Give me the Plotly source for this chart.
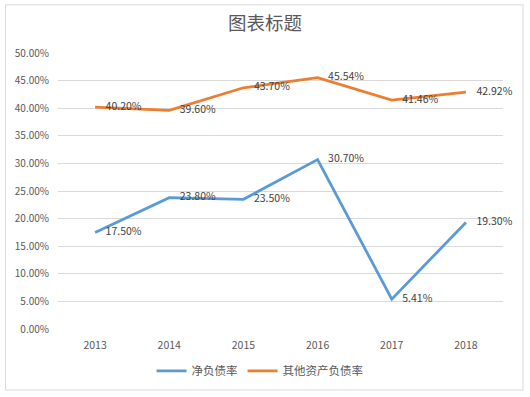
import plotly.graph_objects as go

years = ["2013", "2014", "2015", "2016", "2017", "2018"]
net_debt = [0.175, 0.238, 0.235, 0.307, 0.0541, 0.193]
other_debt = [0.402, 0.396, 0.437, 0.4554, 0.4146, 0.4292]
net_labels = ["17.50%", "23.80%", "23.50%", "30.70%", "5.41%", "19.30%"]
other_labels = ["40.20%", "39.60%", "43.70%", "45.54%", "41.46%", "42.92%"]
y_ticks = [0, 0.05, 0.10, 0.15, 0.20, 0.25, 0.30, 0.35, 0.40, 0.45, 0.50]

font_family = "Noto Sans CJK SC, Noto Sans, sans-serif"
pad = "\u2002\u2002"

fig = go.Figure()
fig.add_trace(go.Scatter(
    x=years, y=net_debt, name="净负债率", mode="lines+text",
    line=dict(color="#5B9BD5", width=2.8),
    text=[pad + t for t in net_labels], textposition="middle right",
    textfont=dict(size=10.5, color="#404040", family=font_family),
    cliponaxis=False, hoverinfo="skip",
))
fig.add_trace(go.Scatter(
    x=years, y=other_debt, name="其他资产负债率", mode="lines+text",
    line=dict(color="#ED7D31", width=2.8),
    text=[pad + t for t in other_labels], textposition="middle right",
    textfont=dict(size=10.5, color="#404040", family=font_family),
    cliponaxis=False, hoverinfo="skip",
))

fig.update_layout(
    width=530, height=397,
    margin=dict(l=58, r=27, t=53, b=66),
    paper_bgcolor="white", plot_bgcolor="white",
    font=dict(family=font_family, color="#595959"),
    title=dict(text="图表标题", x=0.5, xanchor="center", y=0.942, yanchor="middle",
               font=dict(size=18.5, color="#595959", family=font_family)),
    showlegend=True,
    legend=dict(orientation="h", x=0.454, xanchor="center", y=-0.152, yanchor="middle",
                font=dict(size=11.5, color="#595959", family=font_family),
                itemwidth=30, tracegroupgap=0),
    xaxis=dict(type="category", range=[-0.5, 5.5], showgrid=False, showline=False,
               zeroline=False, ticks="", tickfont=dict(size=10.5, color="#595959"),
               ticklabelstandoff=8, automargin=False),
    yaxis=dict(range=[0, 0.5], tickvals=y_ticks, tickformat=".2%",
               showgrid=True, gridcolor="#D9D9D9", gridwidth=1, zeroline=False,
               showline=False, ticks="", tickfont=dict(size=10, color="#595959"),
               ticklabelstandoff=8, automargin=False),
    shapes=[dict(type="rect", xref="paper", yref="paper",
                 x0=(5.5 - 58) / 445, x1=(523 - 58) / 445,
                 y0=(331 - 392.5) / 278, y1=(331 - 4.5) / 278,
                 line=dict(color="#D9D9D9", width=1), layer="below")],
)

fig.write_html("out.html", config={"displayModeBar": False},
               post_script="document.body.style.margin='0';document.body.style.padding='0';")
